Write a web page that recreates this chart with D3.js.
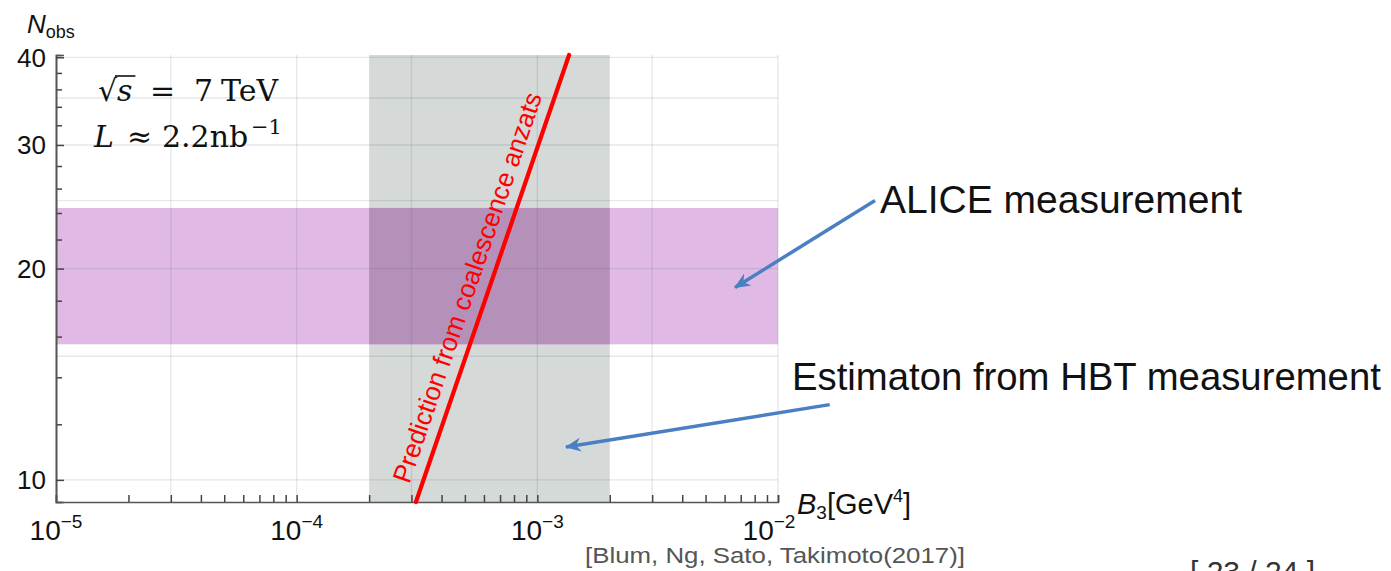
<!DOCTYPE html>
<html>
<head>
<meta charset="utf-8">
<script src="https://cdn.jsdelivr.net/npm/d3@7"></script>
<style>
  body { margin: 0; background: #fff; }
  svg { display: block; font-family: "Liberation Sans", Arial, sans-serif; }
</style>
</head>
<body>
<div id="graph"></div>
<script>
// ---- chart values ----
var X_DOMAIN   = [1e-5, 1e-2];
var Y_DOMAIN   = [9.3, 40.3];
var X_LABELS   = [1e-5, 1e-4, 1e-3, 1e-2];
var X_GRID     = [3e-5, 1e-4, 3e-4, 1e-3, 3e-3, 1e-2];
var Y_LABELS   = [10, 20, 30, 40];
var Y_MINOR    = [12, 14, 16, 18, 22, 24, 26, 28, 32, 34, 36, 38];
var Y_GRID     = [10, 15, 20, 25, 30, 35, 40];
var HBT_BAND   = [2e-4, 2e-3];      // B3 range from HBT estimate
var ALICE_BAND = [15.6, 24.4];      // N_obs measured by ALICE
var PRED_B3    = [3.13e-4, 1.355e-3];
var PRED_N     = [9.3, 40.3];
// arrows in data coordinates: [tailB3, tailN, tipB3, tipN]
var ARROWS     = [[2.53e-2, 25.0, 6.63e-3, 18.8], [1.64e-2, 12.8, 1.315e-3, 11.14]];

var W = 1391, H = 571;
var LEFT = 56, RIGHT = 778, TOP = 55, BOTTOM = 502;

var svg = d3.select("#graph").append("svg")
  .attr("width", W).attr("height", H);

var x = d3.scaleLog().domain(X_DOMAIN).range([LEFT, RIGHT]);
var y = d3.scaleLog().domain(Y_DOMAIN).range([BOTTOM, TOP]);

// HBT band (gray), ALICE band (purple), and their overlap
svg.append("rect")
  .attr("x", x(HBT_BAND[0])).attr("y", TOP)
  .attr("width", x(HBT_BAND[1]) - x(HBT_BAND[0])).attr("height", BOTTOM - TOP)
  .attr("fill", "#d5d9d8");

svg.append("rect")
  .attr("x", LEFT).attr("y", y(ALICE_BAND[1]))
  .attr("width", RIGHT - LEFT).attr("height", y(ALICE_BAND[0]) - y(ALICE_BAND[1]))
  .attr("fill", "#e0bae5");

svg.append("rect")
  .attr("x", x(HBT_BAND[0])).attr("y", y(ALICE_BAND[1]))
  .attr("width", x(HBT_BAND[1]) - x(HBT_BAND[0]))
  .attr("height", y(ALICE_BAND[0]) - y(ALICE_BAND[1]))
  .attr("fill", "#b591ba");

// grid
var grid = svg.append("g").attr("stroke", "rgba(40,70,70,0.12)").attr("stroke-width", 1.3);
grid.selectAll(".gx").data(X_GRID).join("line")
  .attr("x1", d => x(d)).attr("x2", d => x(d))
  .attr("y1", TOP).attr("y2", BOTTOM);
grid.selectAll(".gy").data(Y_GRID).join("line")
  .attr("x1", LEFT).attr("x2", RIGHT)
  .attr("y1", d => y(d)).attr("y2", d => y(d));

// axes (ticks pointing inward)
var xAxis = d3.axisTop(x).tickValues(x.ticks()).tickSize(7).tickFormat("");
svg.append("g").attr("transform", "translate(0," + BOTTOM + ")").call(xAxis);

var yAxisMinor = d3.axisRight(y).tickValues(Y_MINOR).tickSize(6).tickFormat("");
svg.append("g").attr("transform", "translate(" + LEFT + ",0)").call(yAxisMinor);
var yAxis = d3.axisRight(y).tickValues(Y_LABELS).tickSize(8).tickFormat("");
svg.append("g").attr("transform", "translate(" + LEFT + ",0)").call(yAxis);

svg.selectAll(".domain").attr("stroke", "#555").attr("stroke-width", 1.6);
svg.selectAll(".tick line").attr("stroke", "#444").attr("stroke-width", 1.5);

// y tick labels
svg.append("g").selectAll("text").data(Y_LABELS).join("text")
  .attr("x", 46).attr("y", d => y(d)).attr("dy", "0.36em")
  .attr("text-anchor", "end").attr("font-size", 26).attr("fill", "#111")
  .text(d => d);

// x tick labels 10^n (last one nudged left, as in the original)
var xl = svg.append("g").selectAll("text").data(X_LABELS).join("text")
  .attr("x", (d, i) => x(d) - (i === X_LABELS.length - 1 ? 9 : 0)).attr("y", 540)
  .attr("text-anchor", "middle").attr("font-size", 28).attr("fill", "#111");
xl.append("tspan").text("10");
xl.append("tspan").attr("dy", -12).attr("font-size", 19)
  .text(d => "\u2212" + Math.round(-Math.log10(d)));

// axis titles
var ny = svg.append("text").attr("x", 27).attr("y", 33).attr("fill", "#111");
ny.append("tspan").attr("font-size", 26).attr("font-style", "italic").text("N");
ny.append("tspan").attr("font-size", 18).attr("dy", 5).text("obs");

var bx = svg.append("text").attr("x", 797).attr("y", 514).attr("fill", "#111").attr("font-size", 29);
bx.append("tspan").attr("font-style", "italic").text("B");
bx.append("tspan").attr("font-size", 19).attr("dy", 5).text("3");
bx.append("tspan").attr("dy", -5).text("[GeV");
bx.append("tspan").attr("font-size", 18).attr("dy", -12).text("4");
bx.append("tspan").attr("dy", 12).text("]");

// prediction line
var pred = PRED_B3.map((b, i) => [x(b), y(PRED_N[i])]);
svg.append("path")
  .attr("d", d3.line()(pred))
  .attr("stroke", "#ff0000").attr("stroke-width", 4.2)
  .attr("stroke-linecap", "round").attr("fill", "none");

var ang = Math.atan2(pred[1][1] - pred[0][1], pred[1][0] - pred[0][0]);
var t = 0.465, off = 12;
var px = pred[0][0] + t * (pred[1][0] - pred[0][0]) + off * Math.sin(ang);
var py = pred[0][1] + t * (pred[1][1] - pred[0][1]) - off * Math.cos(ang);
svg.append("text")
  .attr("transform", "translate(" + px + "," + py + ") rotate(" + (ang * 180 / Math.PI) + ")")
  .attr("text-anchor", "middle").attr("font-size", 26).attr("fill", "#ff0000")
  .text("Prediction from coalescence anzats");

// energy / luminosity label
var serif = "'DejaVu Serif', 'Liberation Serif', serif";
var l1 = svg.append("text").attr("y", 101)
  .attr("font-family", serif).attr("font-size", 30).attr("fill", "#111");
l1.append("tspan").attr("x", 98).text("\u221A");
l1.append("tspan").attr("x", 117).attr("font-style", "italic").text("s");
l1.append("tspan").attr("x", 150).text("=");
l1.append("tspan").attr("x", 194).text("7");
l1.append("tspan").attr("x", 221).text("TeV");
var s0 = l1.node().getStartPositionOfChar(1), s1 = l1.node().getEndPositionOfChar(1);
var rootTop = s0.y - 25;
svg.append("line")
  .attr("x1", s0.x - 2).attr("x2", s1.x + 3)
  .attr("y1", rootTop).attr("y2", rootTop)
  .attr("stroke", "#111").attr("stroke-width", 1.6);

var l2 = svg.append("text").attr("y", 147)
  .attr("font-family", serif).attr("font-size", 30).attr("fill", "#111");
l2.append("tspan").attr("x", 94).attr("font-style", "italic").text("L");
l2.append("tspan").attr("x", 127).text("\u2248");
l2.append("tspan").attr("x", 162).text("2.2nb");
l2.append("tspan").attr("x", 251).attr("font-size", 21).attr("dy", -13).text("\u22121");

// annotation arrows
var defs = svg.append("defs");
defs.append("marker").attr("id", "head")
  .attr("viewBox", "-16 -8 18 16").attr("refX", 0).attr("refY", 0)
  .attr("markerUnits", "userSpaceOnUse").attr("markerWidth", 18).attr("markerHeight", 16)
  .attr("orient", "auto")
  .append("path").attr("d", "M1,0 L-15,-7 L-10,0 L-15,7 Z").attr("fill", "#4a7fc4");

svg.append("g").selectAll("line").data(ARROWS).join("line")
  .attr("x1", d => x(d[0])).attr("y1", d => y(d[1]))
  .attr("x2", d => x(d[2])).attr("y2", d => y(d[3]))
  .attr("stroke", "#4a7fc4").attr("stroke-width", 3.5)
  .attr("marker-end", "url(#head)");

svg.append("text").attr("x", 880).attr("y", 213)
  .attr("font-size", 39).attr("fill", "#111").text("ALICE measurement");
svg.append("text").attr("x", 792).attr("y", 390)
  .attr("font-size", 38.3).attr("fill", "#111").text("Estimaton from HBT measurement");

svg.append("text").attr("x", 585).attr("y", 563)
  .attr("font-size", 22).attr("fill", "#555")
  .attr("textLength", 380).attr("lengthAdjust", "spacingAndGlyphs")
  .text("[Blum, Ng, Sato, Takimoto(2017)]");

svg.append("text").attr("x", 1190).attr("y", 582)
  .attr("font-size", 30).attr("fill", "#333").text("[ 23 / 24 ]");
</script>
</body>
</html>
